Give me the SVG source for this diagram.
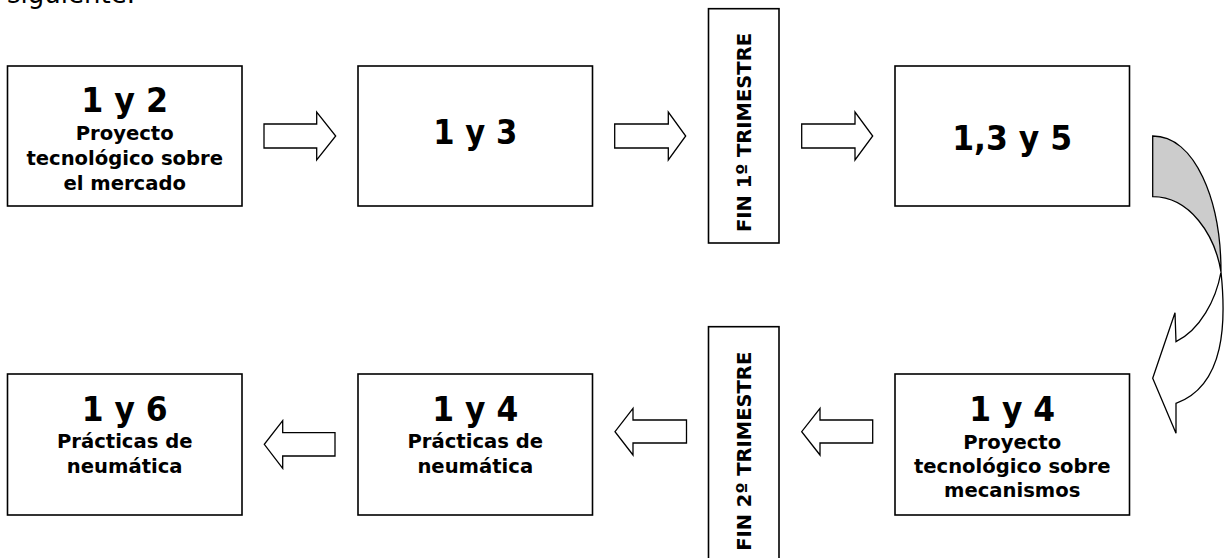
<svg xmlns="http://www.w3.org/2000/svg" width="1226" height="558" viewBox="0 0 1226 558">
<style>
.box{fill:#fff;stroke:#000;stroke-width:1.6}
.arr{fill:#fff;stroke:#000;stroke-width:1.3;stroke-linejoin:miter}
.t{font-family:"DejaVu Sans","Liberation Sans",sans-serif;font-weight:bold;fill:#000;text-anchor:middle}
.big{font-size:33.5px}
.sub{font-size:19.6px}
.fin{font-size:19.5px}
.body{font-family:"DejaVu Sans","Liberation Sans",sans-serif;font-size:26px;fill:#000}
</style>
<rect width="1226" height="558" fill="#fff"/>
<text class="body" x="7" y="3">siguiente.</text>

<g id="n1">
<rect class="box" x="7.5" y="66" width="234.5" height="140"/>
<text class="t big" x="124.7" y="112" textLength="87" lengthAdjust="spacingAndGlyphs">1 y 2</text>
<text class="t sub" x="124.7" y="140">Proyecto</text>
<text class="t sub" x="124.7" y="165">tecnológico sobre</text>
<text class="t sub" x="124.7" y="189.5">el mercado</text>
</g>
<g id="n2">
<rect class="box" x="358" y="66" width="234.5" height="140"/>
<text class="t big" x="475.3" y="144" textLength="84" lengthAdjust="spacingAndGlyphs">1 y 3</text>
</g>
<g id="fin1">
<rect class="box" x="708.5" y="8.7" width="70.5" height="234.3"/>
<text class="t fin" transform="translate(750.5,132.5) rotate(-90)">FIN 1º TRIMESTRE</text>
</g>
<g id="n3">
<rect class="box" x="895" y="66" width="234.5" height="140"/>
<text class="t big" x="1012.2" y="150" textLength="120" lengthAdjust="spacingAndGlyphs">1,3 y 5</text>
</g>
<g id="n4">
<rect class="box" x="895" y="374" width="234.5" height="141"/>
<text class="t big" x="1012.2" y="421" textLength="86" lengthAdjust="spacingAndGlyphs">1 y 4</text>
<text class="t sub" x="1012.2" y="449">Proyecto</text>
<text class="t sub" x="1012.2" y="473">tecnológico sobre</text>
<text class="t sub" x="1012.2" y="497">mecanismos</text>
</g>
<g id="fin2">
<rect class="box" x="708.5" y="326.7" width="70.5" height="240"/>
<text class="t fin" transform="translate(750.5,451.3) rotate(-90)">FIN 2º TRIMESTRE</text>
</g>
<g id="n5">
<rect class="box" x="358" y="374" width="234.5" height="141"/>
<text class="t big" x="475.3" y="421" textLength="86" lengthAdjust="spacingAndGlyphs">1 y 4</text>
<text class="t sub" x="475.3" y="448.3">Prácticas de</text>
<text class="t sub" x="475.3" y="473.3">neumática</text>
</g>
<g id="n6">
<rect class="box" x="7.5" y="374" width="234.5" height="141"/>
<text class="t big" x="124.7" y="420.5" textLength="86" lengthAdjust="spacingAndGlyphs">1 y 6</text>
<text class="t sub" x="124.7" y="448.3">Prácticas de</text>
<text class="t sub" x="124.7" y="473.3">neumática</text>
</g>

<g id="connectors">
<path class="arr" d="M264,124 H316.7 V112 L335.7,136 L316.7,160 V148 H264 Z"/>
<path class="arr" d="M614.7,124 H668.3 V112 L685.7,136 L668.3,160 V148 H614.7 Z"/>
<path class="arr" d="M801.7,124 H855 V112 L872.7,136 L855,160 V148 H801.7 Z"/>
<path class="arr" d="M335,432.7 H282.7 V420.7 L264.3,444.3 L282.7,468.3 V456 H335 Z"/>
<path class="arr" d="M686.5,420 H633 V408.3 L615,431.7 L633,455 V443 H686.5 Z"/>
<path class="arr" d="M872.7,420 H820 V408.3 L801.7,431.7 L820,455 V443 H872.7 Z"/>
<path fill="#cccccc" stroke="#000" stroke-width="1.3" d="M1152.7,136 C1195,136 1221,200 1221,272 C1215,235 1190,196.7 1152.7,196.7 Z"/>
<path class="arr" d="M1221,272 C1216,300 1200,330 1176,341.7 L1175,312.7 L1152.7,378.3 L1176,433.3 L1176,403.3 C1226,385 1226,320 1221,272 Z"/>
</g>
</svg>
